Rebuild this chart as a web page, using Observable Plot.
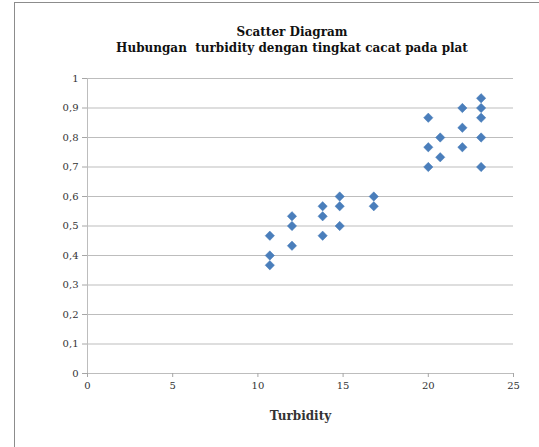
<!DOCTYPE html>
<html>
<head>
<meta charset="utf-8">
<script src="https://cdn.jsdelivr.net/npm/d3@7"></script>
<script src="https://cdn.jsdelivr.net/npm/@observablehq/plot@0.6"></script>
<style>
  html, body { margin: 0; padding: 0; background: #fff; }
  body { width: 539px; height: 447px; position: relative; overflow: hidden; }
  #frame { position: absolute; left: 14px; top: 2px; width: 540px; height: 460px;
           border-left: 1px solid #8c8c8c; border-top: 1px solid #8c8c8c; box-sizing: border-box; }
  #title { position: absolute; left: 292px; top: 24px; transform: translateX(-50%);
           font-family: "DejaVu Serif", serif; font-weight: bold; font-size: 12px;
           line-height: 16px; text-align: center; white-space: pre; color: #111; z-index: 2; }
  #chart { position: absolute; left: 0; top: 0; }
  #chart svg, #chart svg text { font-family: "DejaVu Serif", serif !important; }
  g[aria-label="x-axis label"] text { font-weight: bold; font-size: 12px; }
</style>
</head>
<body>
<div id="frame"></div>
<div id="title">Scatter Diagram
Hubungan  turbidity dengan tingkat cacat pada plat</div>
<div id="chart"></div>
<script>
const turbidity = [10.7, 10.7, 10.7, 12, 12, 12, 13.8, 13.8, 13.8, 14.8, 14.8, 14.8, 16.8, 16.8,
                   20, 20, 20, 20.7, 20.7, 22, 22, 22, 23.1, 23.1, 23.1, 23.1, 23.1];
const cacat = [0.467, 0.4, 0.367, 0.533, 0.5, 0.433, 0.567, 0.533, 0.467, 0.6, 0.567, 0.5, 0.6, 0.567,
               0.867, 0.767, 0.7, 0.8, 0.733, 0.9, 0.833, 0.767, 0.933, 0.9, 0.867, 0.8, 0.7];
const xTicks = [0, 5, 10, 15, 20, 25];
const yTicks = [0, 0.1, 0.2, 0.3, 0.4, 0.5, 0.6, 0.7, 0.8, 0.9, 1];

const points = turbidity.map((t, i) => ({x: t, y: cacat[i]}));
const fmt = d => String(+d.toFixed(1)).replace(".", ",");

const chart = Plot.plot({
  width: 539,
  height: 447,
  marginLeft: 87,
  marginRight: 26,
  marginTop: 78,
  marginBottom: 74,
  style: {fontSize: "10px", background: "transparent"},
  x: {domain: [0, 25]},
  y: {domain: [0, 1]},
  marks: [
    Plot.ruleY(yTicks, {stroke: "#bdbdbd", strokeWidth: 1}),
    Plot.ruleX([0], {stroke: "#bdbdbd", strokeWidth: 1}),
    Plot.axisY({ticks: yTicks, tickFormat: fmt, tickSize: 5, tickPadding: 4, stroke: "#a6a6a6", fill: "#333", label: null}),
    Plot.axisX({ticks: xTicks, tickFormat: fmt, tickSize: 4, tickPadding: 4, stroke: "#a6a6a6", fill: "#333",
                label: "Turbidity", labelAnchor: "center", labelArrow: "none", labelOffset: 46}),
    Plot.dot(points, {x: "x", y: "y", symbol: "diamond2", r: 4.2, fill: "#4a7ebb", stroke: "#4a7ebb", strokeWidth: 0.5})
  ]
});
document.getElementById("chart").appendChild(chart);
</script>
</body>
</html>
